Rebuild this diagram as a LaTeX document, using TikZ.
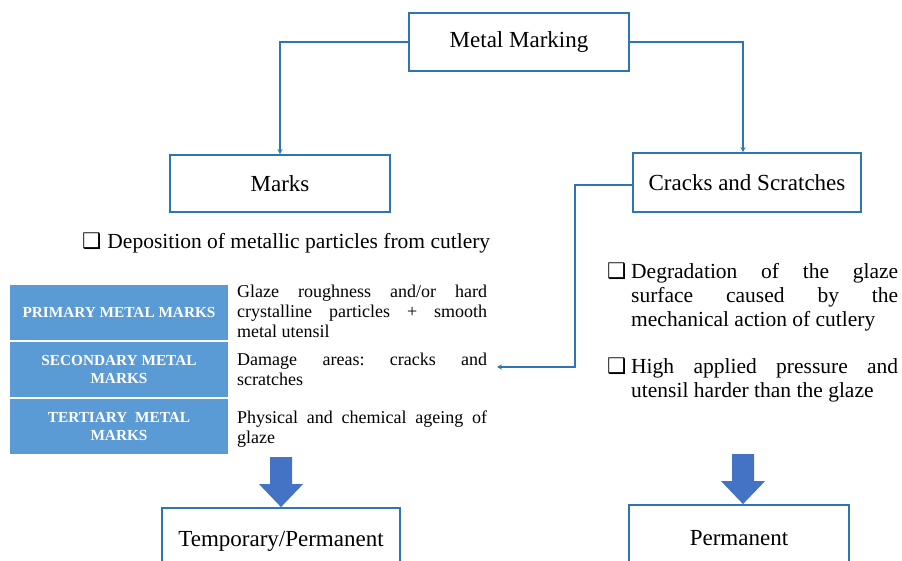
\documentclass[tikz,border=0pt]{standalone}
\usepackage{fontspec}
\setmainfont{Liberation Serif}
\newfontfamily\symfont{DejaVu Sans}
\usetikzlibrary{arrows.meta}
\definecolor{boxblue}{HTML}{2E75B6}
\definecolor{cellblue}{HTML}{5B9BD5}
\definecolor{bigarrow}{HTML}{4472C4}
\newcommand{\sqbox}{{\symfont\char"2751}}
\frenchspacing
\tikzset{
  mainbox/.style={draw=boxblue, line width=1.8pt, fill=white, font=\fontsize{23}{26}\selectfont, inner sep=0pt},
  conn/.style={draw=boxblue, line width=1.6pt, -{Stealth[length=5pt,width=5pt]}},
  cell/.style={fill=cellblue, draw=white, line width=1.2pt, minimum width=219pt, minimum height=56pt, text=white, font=\bfseries\fontsize{15.3}{18}\selectfont, align=center, inner sep=0pt},
  desc/.style={anchor=north west, text width=250pt, align=justify, font=\frenchspacing\fontsize{18}{20}\selectfont, inner sep=0pt},
  bullet/.style={anchor=north west, font=\fontsize{21.5}{24}\selectfont, inner sep=0pt},
  bigarr/.style={fill=bigarrow, draw=none}
}
\begin{document}
\begin{tikzpicture}[x=1pt,y=-1pt]
\useasboundingbox (0,0) rectangle (902,561);
% main boxes
\node[mainbox, minimum width=220pt, minimum height=58pt] (mm) at (519,42) {Metal Marking};
\node[mainbox, minimum width=220pt, minimum height=57pt] (marks) at (280,183.5) {Marks};
\node[mainbox, minimum width=228pt, minimum height=59pt] (cracks) at (747,182.5) {Cracks and Scratches};
\node[mainbox, minimum width=238pt, minimum height=66pt] (temp) at (281,541) {Temporary/Permanent};
\node[mainbox, minimum width=220pt, minimum height=66pt] (perm) at (739,538) {Permanent};
% connectors
\draw[conn] (mm.west) -| (marks.north);
\draw[conn] (mm.east) -| (cracks.north -| 743,0);
\coordinate (ctarget) at (497,367);
\draw[conn] (cracks.west |- 0,185) -- (575,185) |- (ctarget);
% bullet left
\node[bullet] (b0) at (82,233) {\sqbox\hspace{6pt}Deposition of metallic particles from cutlery};
% table
\node[cell] (c1) at (119,312.5) {PRIMARY METAL MARKS};
\node[cell] (c2) at (119,369.5) {SECONDARY METAL\\MARKS};
\node[cell] (c3) at (119,426.5) {TERTIARY\ \ METAL\\MARKS};
\node[desc] (d1) at (237,285) {Glaze roughness and/or hard\linebreak crystalline particles + smooth\linebreak metal utensil};
\node[desc] (d2) at (237,353) {Damage areas: cracks and\linebreak scratches};
\node[desc] (d3) at (237,411) {Physical and chemical ageing of\linebreak glaze};
% right bullets
\node[bullet] (rb1s) at (607,263) {\sqbox};
\node[bullet, text width=267pt, align=justify] (rb1) at (631,263) {Degradation of the glaze\linebreak surface caused by the\linebreak mechanical action of cutlery};
\node[bullet] (rb2s) at (607,358) {\sqbox};
\node[bullet, text width=267pt, align=justify] (rb2) at (631,358) {High applied pressure and\linebreak utensil harder than the glaze};
% block arrows
\fill[bigarr] ([xshift=-11pt,yshift=50pt]temp.north) -- ([xshift=11pt,yshift=50pt]temp.north)
  -- ([xshift=11pt,yshift=23pt]temp.north) -- ([xshift=22pt,yshift=23pt]temp.north)
  -- (temp.north) -- ([xshift=-22pt,yshift=23pt]temp.north) -- ([xshift=-11pt,yshift=23pt]temp.north) -- cycle;
\fill[bigarr] ([xshift=-7pt,yshift=50pt]perm.north) -- ([xshift=15pt,yshift=50pt]perm.north)
  -- ([xshift=15pt,yshift=23pt]perm.north) -- ([xshift=26pt,yshift=23pt]perm.north)
  -- ([xshift=4pt]perm.north) -- ([xshift=-18pt,yshift=23pt]perm.north) -- ([xshift=-7pt,yshift=23pt]perm.north) -- cycle;
\end{tikzpicture}
\end{document}
